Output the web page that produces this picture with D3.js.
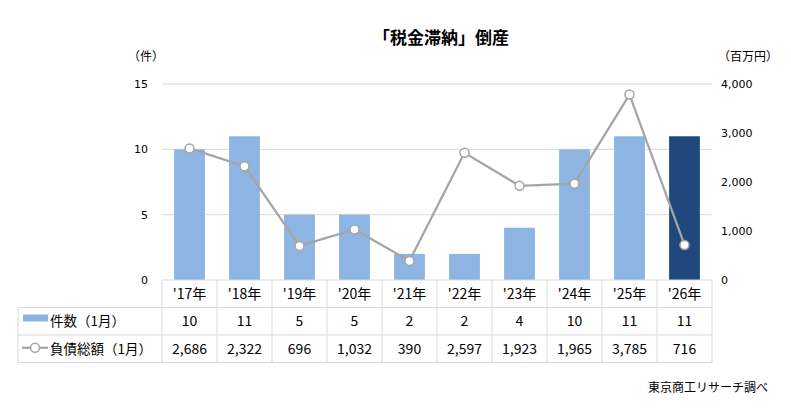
<!DOCTYPE html>
<html>
<head>
<meta charset="utf-8">
<script src="https://cdn.jsdelivr.net/npm/d3@7"></script>
<style>
  body { margin: 0; background: #fff; }
  svg text { font-family: "Noto Sans CJK JP", "Noto Sans", sans-serif; fill: #000; }
</style>
</head>
<body>
<div id="chart"></div>
<script>
const years = ["'17年", "'18年", "'19年", "'20年", "'21年", "'22年", "'23年", "'24年", "'25年", "'26年"];
const counts = [10, 11, 5, 5, 2, 2, 4, 10, 11, 11];
const debts = [2686, 2322, 696, 1032, 390, 2597, 1923, 1965, 3785, 716];
const leftTicks = [0, 5, 10, 15];
const rightTicks = [0, 1000, 2000, 3000, 4000];

const W = 791, H = 410;
const plot = { left: 162, right: 712, top: 84, bottom: 280 };
const rowH = 27.5;

const svg = d3.select("#chart").append("svg")
  .attr("width", W).attr("height", H);

const x = d3.scaleBand().domain(years).range([plot.left, plot.right]).paddingInner(0.44).paddingOuter(0.22);
const xCol = d3.scaleBand().domain(years).range([plot.left, plot.right]);
const yL = d3.scaleLinear().domain([0, 15]).range([plot.bottom, plot.top]);
const yR = d3.scaleLinear().domain([0, 4000]).range([plot.bottom, plot.top]);

// title
svg.append("text")
  .attr("x", 441).attr("y", 44)
  .attr("text-anchor", "middle")
  .style("font-size", "17px").style("font-weight", "bold")
  .text("「税金滞納」倒産");

// axis units
svg.append("text").attr("x", 128).attr("y", 61).style("font-size", "12px").text("（件）");
svg.append("text").attr("x", 718).attr("y", 61).style("font-size", "12px").text("（百万円）");

// gridlines
svg.append("g").selectAll("line").data(leftTicks.filter(d => d > 0)).join("line")
  .attr("x1", plot.left).attr("x2", plot.right)
  .attr("y1", d => yL(d)).attr("y2", d => yL(d))
  .attr("stroke", "#d9d9d9").attr("stroke-width", 1);

// left axis
const axL = svg.append("g").attr("transform", `translate(${plot.left},0)`)
  .call(d3.axisLeft(yL).tickValues(leftTicks).tickSize(0).tickPadding(14));
axL.select(".domain").remove();
axL.selectAll("text").style("font-size", "11px").style("font-family", "\"DejaVu Sans\", sans-serif");

// right axis
const axR = svg.append("g").attr("transform", `translate(${plot.right},0)`)
  .call(d3.axisRight(yR).tickValues(rightTicks).tickSize(0).tickPadding(9).tickFormat(d3.format(",")));
axR.select(".domain").remove();
axR.selectAll("text").style("font-size", "11px").style("font-family", "\"DejaVu Sans\", sans-serif");

// bars
svg.append("g").selectAll("rect").data(counts).join("rect")
  .attr("x", (d, i) => x(years[i]))
  .attr("width", x.bandwidth())
  .attr("y", d => yL(d))
  .attr("height", d => yL(0) - yL(d))
  .attr("fill", (d, i) => i === counts.length - 1 ? "#1f497d" : "#8db4e2");

// line
const line = d3.line()
  .x((d, i) => xCol(years[i]) + xCol.bandwidth() / 2)
  .y(d => yR(d));
svg.append("path").datum(debts)
  .attr("d", line)
  .attr("fill", "none").attr("stroke", "#a5a5a5").attr("stroke-width", 2.25);
svg.append("g").selectAll("circle").data(debts).join("circle")
  .attr("cx", (d, i) => xCol(years[i]) + xCol.bandwidth() / 2)
  .attr("cy", d => yR(d))
  .attr("r", 4.5)
  .attr("fill", "#fff").attr("stroke", "#a5a5a5").attr("stroke-width", 1.5);

// data table
const tbl = svg.append("g");
const tLeft = 18;
const gridC = "#d9d9d9";
const fs = "14px";
const rowsY = [plot.bottom, plot.bottom + rowH, plot.bottom + 2 * rowH, plot.bottom + 3 * rowH];
// horizontal lines
tbl.selectAll("line.h").data(rowsY).join("line")
  .attr("x1", (d, i) => i === 0 ? plot.left : tLeft)
  .attr("x2", plot.right)
  .attr("y1", d => d).attr("y2", d => d)
  .attr("stroke", gridC);
// vertical lines
const vx = years.map(y => xCol(y)).concat([plot.right]);
tbl.selectAll("line.v").data(vx).join("line")
  .attr("x1", d => d).attr("x2", d => d)
  .attr("y1", plot.bottom).attr("y2", rowsY[3])
  .attr("stroke", gridC);
tbl.append("line").attr("x1", tLeft).attr("x2", tLeft)
  .attr("y1", rowsY[1]).attr("y2", rowsY[3]).attr("stroke", gridC);

// header
tbl.selectAll("text.yr").data(years).join("text")
  .attr("x", d => xCol(d) + xCol.bandwidth() / 2)
  .attr("y", rowsY[0] + rowH / 2 + 5)
  .attr("text-anchor", "middle").style("font-size", fs)
  .text(d => d);
tbl.selectAll("text.cnt").data(counts).join("text")
  .attr("x", (d, i) => xCol(years[i]) + xCol.bandwidth() / 2)
  .attr("y", rowsY[1] + rowH / 2 + 5)
  .attr("text-anchor", "middle").style("font-size", fs)
  .text(d => d);
tbl.selectAll("text.debt").data(debts).join("text")
  .attr("x", (d, i) => xCol(years[i]) + xCol.bandwidth() / 2)
  .attr("y", rowsY[2] + rowH / 2 + 5)
  .attr("text-anchor", "middle").style("font-size", fs)
  .text(d => d3.format(",")(d));

// legend keys
tbl.append("rect").attr("x", 23).attr("y", rowsY[1] + 7).attr("width", 25).attr("height", 7).attr("fill", "#8db4e2");
tbl.append("text").attr("x", 50).attr("y", rowsY[1] + rowH / 2 + 5).style("font-size", "13.5px").text("件数（1月）");
const ly = rowsY[2] + rowH / 2 - 1;
tbl.append("line").attr("x1", 22).attr("x2", 48).attr("y1", ly).attr("y2", ly)
  .attr("stroke", "#a5a5a5").attr("stroke-width", 2.25);
tbl.append("circle").attr("cx", 35).attr("cy", ly).attr("r", 4.5)
  .attr("fill", "#fff").attr("stroke", "#a5a5a5").attr("stroke-width", 1.5);
tbl.append("text").attr("x", 50).attr("y", rowsY[2] + rowH / 2 + 5).style("font-size", "13.5px").text("負債総額（1月）");

// source
svg.append("text").attr("x", 768).attr("y", 392).attr("text-anchor", "end")
  .style("font-size", "12px").text("東京商工リサーチ調べ");
</script>
</body>
</html>
